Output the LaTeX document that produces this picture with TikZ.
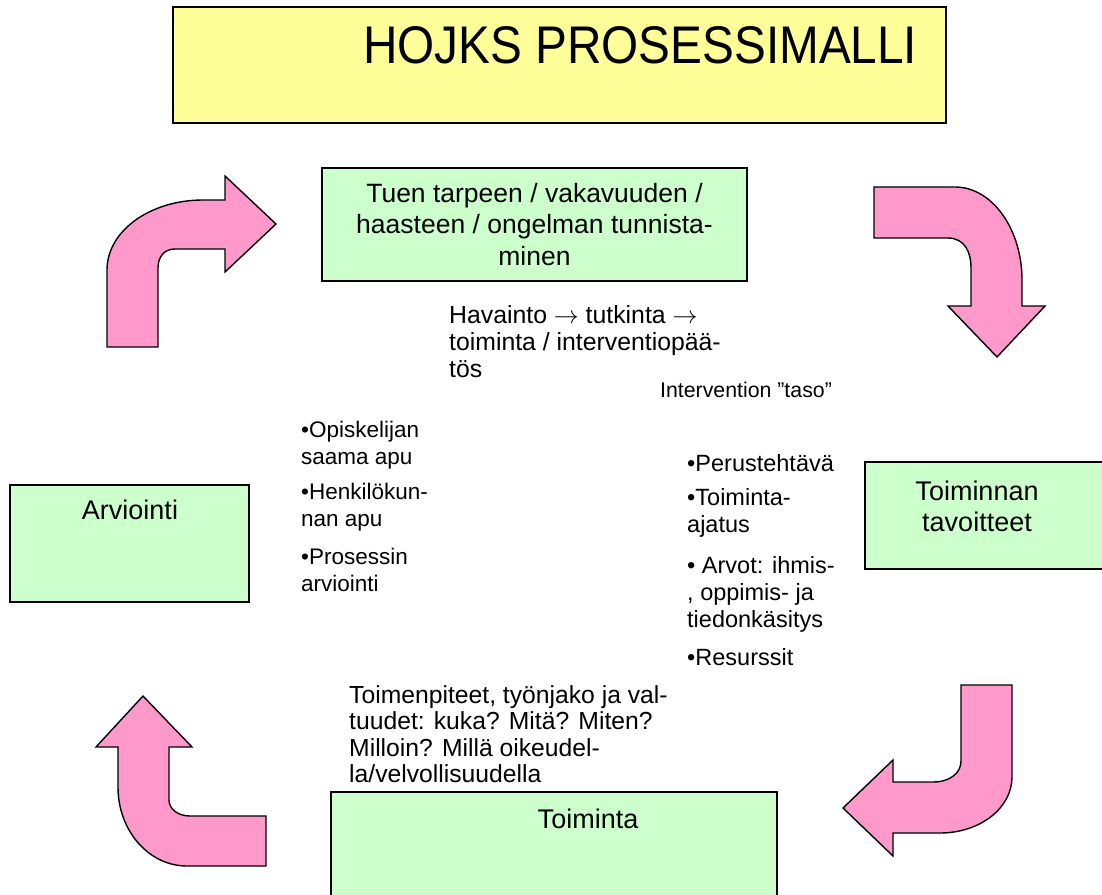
\documentclass[tikz,border=0pt]{standalone}
\usepackage{fontspec}
\usepackage{graphicx}
\setmainfont{Liberation Sans}
\definecolor{ttl}{HTML}{FFFF99}
\definecolor{grn}{HTML}{CCFFCC}
\definecolor{pnk}{HTML}{FF99CC}
\tikzset{
  box/.style={draw=black, line width=1.5pt, inner sep=0pt},
  gbox/.style={box, fill=grn},
  bent/.style={draw=black, line width=1.4pt, fill=pnk, line join=miter},
  txt/.style={inner sep=0pt, anchor=base west, align=left},
  lbl/.style={inner sep=0pt, anchor=base, font=\fontsize{27}{31}\selectfont},
  btxt/.style={txt, font=\fontsize{22.5}{27}\selectfont},
  rtxt/.style={txt, font=\fontsize{23.5}{27}\selectfont},
}
\begin{document}
\begin{tikzpicture}[x=1pt, y=-1pt]
\clip (0,0) rectangle (1102,894);
\fill[white] (0,0) rectangle (1102,894);
% title
\node (title) [box, fill=ttl, minimum width=773pt, minimum height=116pt] at (559.5,65) {};
\node (titletxt) [inner sep=0pt, anchor=base west, font=\fontsize{53}{60}\selectfont] at (363,63) {\scalebox{0.9}[1]{HOJKS PROSESSIMALLI}};
% green boxes
\node (tuen) [gbox, minimum width=425pt, minimum height=113pt] at (534.5,224.5) {};
\node (tuentxt) [inner sep=0pt, anchor=base, align=center, font=\fontsize{26.5}{31.5}\selectfont] at (534.5,265) {Tuen tarpeen / vakavuuden /\\haasteen / ongelman tunnista-\\minen};
\node (arv) [gbox, minimum width=239pt, minimum height=117pt] at (129.5,543.5) {};
\node (arvtxt) [lbl] at (130,519) {Arviointi};
\node (tav) [gbox, minimum width=260pt, minimum height=107pt] at (995,515.5) {};
\node (tavtxt1) [lbl] at (977,500) {Toiminnan};
\node (tavtxt2) [lbl] at (977,531) {tavoitteet};
\node (toi) [gbox, minimum width=446pt, minimum height=120pt] at (554,852) {};
\node (toitxt) [lbl] at (588,828) {Toiminta};
% free texts (base anchor = baseline of the last line)
\node (hav) [txt, font=\fontsize{24.8}{27}\selectfont] at (449,377) {Havainto $\rightarrow$ tutkinta $\rightarrow$\\toiminta / interventiopää-\\tös};
\node (int) [txt, font=\fontsize{21.3}{26}\selectfont] at (660,397) {Intervention ”taso”};
\node (l1) [btxt] at (301,464) {•Opiskelijan\\saama apu};
\node (l2) [btxt] at (301,526) {•Henkilökun-\\nan apu};
\node (l3) [btxt] at (301,591) {•Prosessin\\arviointi};
\node (r1) [rtxt] at (687,471) {•Perustehtävä};
\node (r2) [rtxt] at (687,532) {•Toiminta-\\ajatus};
\node (r3) [rtxt] at (687,627) {• Arvot: ihmis-\\, oppimis- ja\\tiedonkäsitys};
\node (r4) [rtxt] at (687,665) {•Resurssit};
\node (tp) [txt, font=\fontsize{24.7}{26.5}\selectfont] at (349,782.5) {Toimenpiteet, työnjako ja val-\\tuudet: kuka? Mitä? Miten?\\Milloin? Millä oikeudel-\\la/velvollisuudella};
% bent arrows
\draw[bent] (107,347) -- (158,347) -- (158,268)
  .. controls (158,257) and (164,249) .. (175,249)
  -- (225,249) -- (225,272) -- (276,224) -- (225,176) -- (225,200) -- (203,200)
  .. controls (150,200) and (107,231) .. (107,270) -- cycle;
\draw[bent] (874,187) -- (955,187)
  .. controls (992,187) and (1022,229) .. (1022,280)
  -- (1022,306) -- (1045,306) -- (997,357) -- (948,306) -- (971,306) -- (971,267)
  .. controls (971,253) and (965,238) .. (948,238)
  -- (874,238) -- cycle;
\draw[bent] (961,685) -- (1012,685) -- (1012,777)
  .. controls (1012,808) and (980,833) .. (940,833)
  -- (893,833) -- (893,856) -- (843,808) -- (893,760) -- (893,782) -- (933,782)
  .. controls (950,782) and (961,773) .. (961,761) -- cycle;
\draw[bent] (266,866) -- (266,816) -- (190,816)
  .. controls (178,816) and (169,809) .. (169,800)
  -- (169,747) -- (192,747) -- (143,696) -- (96,747) -- (118,747) -- (118,787)
  .. controls (118,831) and (149,866) .. (187,866) -- cycle;
\end{tikzpicture}
\end{document}
